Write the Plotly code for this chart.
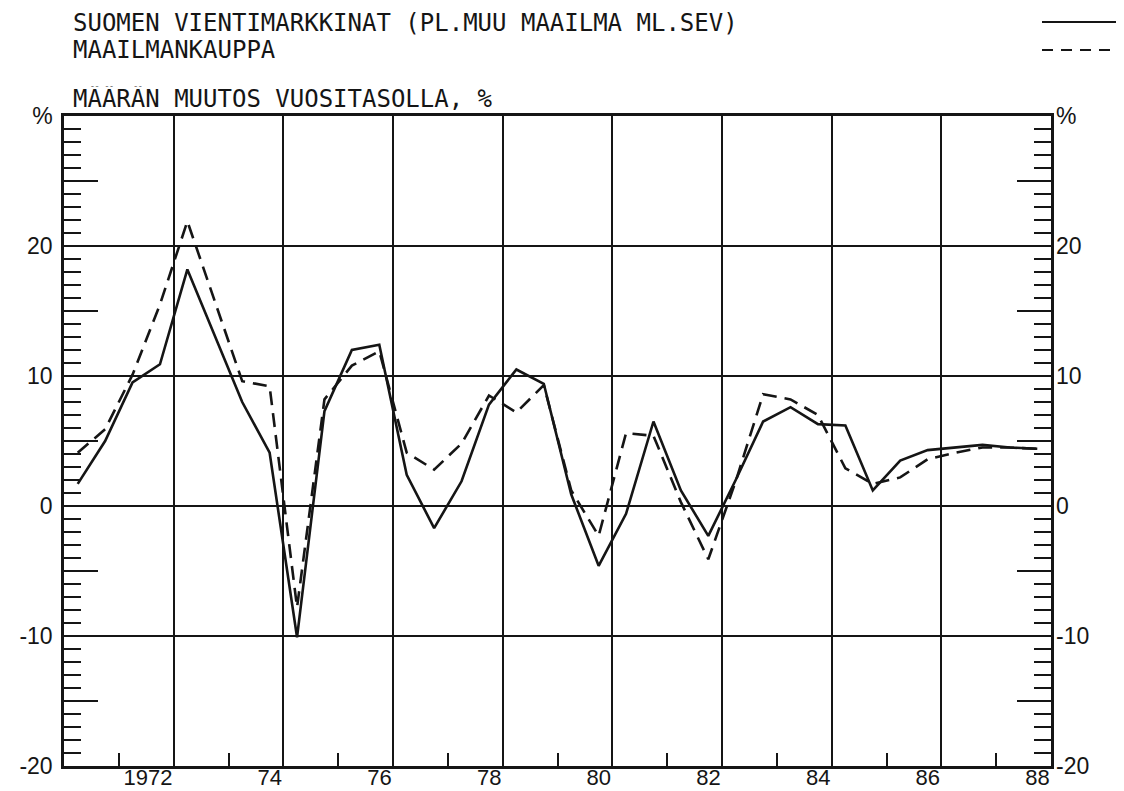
import plotly.graph_objects as go

# ---- data (half-year observations, annual rate of volume change, %) ----
periods = [1971.25, 1971.75, 1972.25, 1972.75, 1973.25, 1973.75, 1974.25, 1974.75,
           1975.25, 1975.75, 1976.25, 1976.75, 1977.25, 1977.75, 1978.25, 1978.75,
           1979.25, 1979.75, 1980.25, 1980.75, 1981.25, 1981.75, 1982.25, 1982.75,
           1983.25, 1983.75, 1984.25, 1984.75, 1985.25, 1985.75, 1986.25, 1986.75,
           1987.25, 1987.75, 1988.25, 1988.75]
export_markets = [1.7, 5.0, 9.5, 10.9, 18.2, 13.1, 8.0, 4.1,
                  -10.1, 7.3, 12.0, 12.4, 2.4, -1.7, 1.9, 7.8,
                  10.5, 9.4, 0.9, -4.6, -0.6, 6.5, 1.2, -2.3,
                  2.0, 6.5, 7.6, 6.3, 6.2, 1.2, 3.5, 4.3,
                  4.5, 4.7, 4.5, 4.4]
world_trade = [4.1, 5.9, 10.1, 15.5, 21.9, 15.8, 9.6, 9.2,
               -7.8, 8.2, 10.8, 11.9, 4.1, 2.8, 4.8, 8.5,
               7.2, 9.3, 1.2, -2.3, 5.6, 5.4, 0.3, -4.1,
               1.9, 8.6, 8.2, 7.0, 2.9, 1.7, 2.2, 3.6,
               4.1, 4.5, 4.5, 4.4]

x_grid_years = [1973, 1975, 1977, 1979, 1981, 1983, 1985, 1987, 1989]
x_labels = ["1972", "74", "76", "78", "80", "82", "84", "86", "88"]
x_minor_years = [1972, 1974, 1976, 1978, 1980, 1982, 1984, 1986, 1988]
y_tick5 = [-20, -15, -10, -5, 0, 5, 10, 15, 20, 25, 30]
y_tick5_text = ["-20", "", "-10", "", "0", "", "10", "", "20", "", "%"]
y_tick10 = [-20, -10, 0, 10, 20, 30]
y_tick10_text = ["-20", "-10", "0", "10", "20", "%"]

title1 = "SUOMEN VIENTIMARKKINAT (PL.MUU MAAILMA ML.SEV)"
title2 = "MAAILMANKAUPPA"
ytitle = "MÄÄRÄN MUUTOS VUOSITASOLLA, %"

# ---- layout geometry ----
W, H = 1124, 791
PL, PR, PT, PB = 56, 1043, 108, 758
INK = "#151515"


def xp(px):
    return (px - PL) / (PR - PL)


def yp(py):
    return (PB - py) / (PB - PT)


fig = go.Figure()
fig.add_trace(go.Scatter(x=periods, y=export_markets, mode="lines",
                         line=dict(color=INK, width=2.6), showlegend=False,
                         hoverinfo="skip", yaxis="y"))
fig.add_trace(go.Scatter(x=periods, y=world_trade, mode="lines",
                         line=dict(color=INK, width=2.6, dash="14px,8px"),
                         showlegend=False, hoverinfo="skip", yaxis="y2"))

tick_font = dict(family="Liberation Sans", size=23, color=INK)
xtick_font = dict(family="Liberation Sans", size=22, color=INK)
text_font = dict(family="DejaVu Sans Mono", size=24, color=INK)

fig.update_layout(
    width=W, height=H,
    margin=dict(l=PL, r=W - PR, t=PT, b=H - PB, pad=0),
    paper_bgcolor="white", plot_bgcolor="white",
    template="none",
    xaxis=dict(range=[1971, 1989], tickmode="array", tickvals=x_grid_years,
               ticktext=x_labels, ticklabelposition="outside left",
               ticks="", ticklen=0, showgrid=True, gridcolor=INK, gridwidth=2,
               showline=True, linecolor=INK, linewidth=2.5, mirror=True,
               zeroline=False, tickfont=xtick_font, automargin=False,
               ticklabelstandoff=-10,
               minor=dict(tickmode="array", tickvals=x_minor_years,
                          ticks="inside", ticklen=13, tickwidth=2,
                          tickcolor=INK, showgrid=False)),
    yaxis=dict(range=[-20, 30], tickmode="array", tickvals=y_tick5,
               ticktext=y_tick5_text, ticks="inside", ticklen=34, tickwidth=2,
               tickcolor=INK, showgrid=False, showline=True, linecolor=INK,
               linewidth=2.5, mirror="ticks", zeroline=False,
               tickfont=tick_font, automargin=False, ticklabelstandoff=4,
               minor=dict(tickmode="linear", tick0=0, dtick=1, ticks="inside",
                          ticklen=17, tickwidth=2, tickcolor=INK,
                          showgrid=False)),
    yaxis2=dict(range=[-20, 30], overlaying="y", side="right", anchor="x",
                tickmode="array", tickvals=y_tick10, ticktext=y_tick10_text,
                ticks="", showgrid=True, gridcolor=INK, gridwidth=2,
                showline=False, zeroline=False, tickfont=tick_font,
                automargin=False, ticklabelstandoff=4),
)

annotations = [
    dict(text=title1, x=xp(64), y=yp(14)),
    dict(text=title2, x=xp(64), y=yp(42)),
    dict(text=ytitle, x=xp(64), y=yp(91)),
]
fig.update_layout(annotations=[
    dict(a, xref="paper", yref="paper", xanchor="left", yanchor="middle",
         showarrow=False, font=text_font, height=25, borderpad=0,
         valign="middle") for a in annotations])

fig.update_layout(shapes=[
    dict(type="line", xref="paper", yref="paper", x0=xp(1034), x1=xp(1116),
         y0=yp(14), y1=yp(14), line=dict(color=INK, width=2.2)),
    dict(type="line", xref="paper", yref="paper", x0=xp(1034), x1=xp(1116),
         y0=yp(42), y1=yp(42), line=dict(color=INK, width=2.2, dash="11px,8px")),
])

fig.write_html("out.html")
